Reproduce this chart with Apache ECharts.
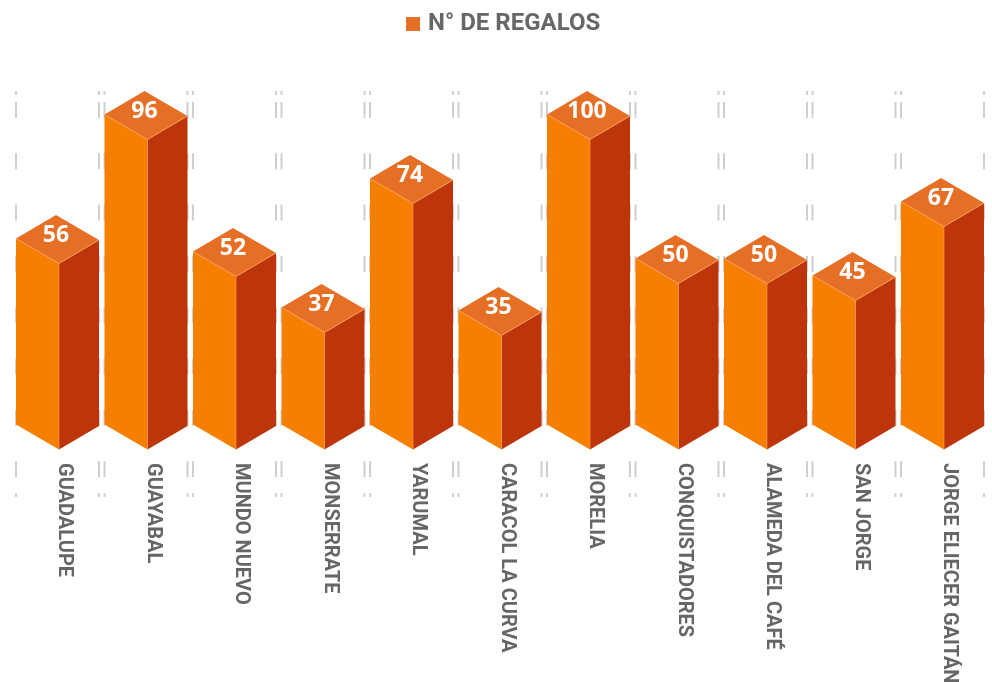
<!DOCTYPE html>
<html>
<head>
<meta charset="utf-8">
<title>N° de regalos</title>
<style>
  html, body { margin: 0; padding: 0; background: #fff; overflow: hidden; }
  #main { width: 992px; height: 682px; }
</style>
<script src="https://cdn.jsdelivr.net/npm/echarts@6/dist/echarts.min.js"></script>
</head>
<body>
<div id="main"></div>
<script>
var barrios = ['GUADALUPE', 'GUAYABAL', 'MUNDO NUEVO', 'MONSERRATE', 'YARUMAL', 'CARACOL LA CURVA',
  'MORELIA', 'CONQUISTADORES', 'ALAMEDA DEL CAFÉ', 'SAN JORGE', 'JORGE ELIECER GAITÁN'];
var regalos = [56, 96, 52, 37, 74, 35, 100, 50, 50, 45, 67]; // printed labels
// column heights as drawn in the picture, the original art does not scale them linearly with the labels
var alturas = [186, 310, 173, 117, 246, 114, 310, 166, 166, 149, 223];

var colorFront = '#F77F00';
var colorSide = '#BD360B';
var colorTop = '#E66F26';
var colorEdge = '#F9A45C';
var colorGuide = '#CFCFCF';
var colorText = '#666666';

// isometric offsets of the column footprint, relative to the front corner
var leftX = -43, leftY = -25, rightX = 40, rightY = -23.5;
var guideTop = 358.5, guideBottom = -47.5; // axis units
var guideDash = [4, 7, 16, 35.3, 16, 35.3, 16, 35.3, 16, 35.3, 16, 35.3, 16, 35.3, 16, 35.3, 16, 16, 4];

var chart = echarts.init(document.getElementById('main'));

function renderColumn(params, api) {
  var base = api.coord([api.value(0), 0]);
  var top = api.coord([api.value(0), api.value(1)]);
  var x = base[0];
  var guideA = api.coord([api.value(0), guideTop])[1];
  var guideB = api.coord([api.value(0), guideBottom])[1];

  function guide(gx) {
    return {
      type: 'line',
      shape: { x1: gx, y1: guideA, x2: gx, y2: guideB },
      style: { stroke: colorGuide, lineWidth: 2, lineDash: guideDash }
    };
  }
  function face(points, fill) {
    return { type: 'polygon', shape: { points: points }, style: { fill: fill } };
  }

  var lx = x + leftX, rx = x + rightX;
  var apexX = x + leftX + rightX, apexY = top[1] + leftY + rightY;
  return {
    type: 'group',
    children: [
      guide(lx),
      guide(rx),
      face([[lx, top[1] + leftY], [x, top[1]], [x, base[1]], [lx, base[1] + leftY]], colorFront),
      face([[x, top[1]], [rx, top[1] + rightY], [rx, base[1] + rightY], [x, base[1]]], colorSide),
      face([[lx, top[1] + leftY], [apexX, apexY], [rx, top[1] + rightY], [x, top[1]]], colorTop),
      {
        type: 'polyline',
        shape: { points: [[lx, top[1] + leftY], [x, top[1]], [rx, top[1] + rightY]] },
        style: { stroke: colorEdge, lineWidth: 1, fill: null, opacity: 0.8 }
      },
      {
        type: 'line',
        shape: { x1: x, y1: top[1], x2: x, y2: base[1] },
        style: { stroke: colorEdge, lineWidth: 1, opacity: 0.6 }
      },
      {
        type: 'text',
        x: apexX,
        y: apexY + 20,
        style: {
          text: String(api.value(2)),
          fill: '#fff',
          font: 'bold 23px "Open Sans"',
          align: 'center',
          verticalAlign: 'middle'
        }
      }
    ]
  };
}

chart.setOption({
  animation: false,
  legend: {
    left: 401,
    top: 7,
    itemWidth: 14,
    itemHeight: 14,
    itemGap: 9,
    selectedMode: false,
    icon: 'rect',
    textStyle: { color: colorText, fontFamily: 'Roboto', fontWeight: 'bold', fontSize: 24, padding: [0, 0, 0, 3] }
  },
  grid: { left: 14.75, right: 3.75, top: 49.5, bottom: 182.5, outerBoundsMode: 'none' },
  xAxis: {
    type: 'category',
    data: barrios,
    axisLine: { show: false },
    axisTick: { show: false },
    splitLine: { show: false },
    axisLabel: {
      interval: 0,
      rotate: -90,
      margin: -36.5,
      hideOverlap: false,
      align: 'left',
      verticalAlign: 'bottom',
      lineHeight: 10,
      color: colorText,
      fontFamily: 'Roboto',
      fontWeight: 'bold',
      fontSize: 20
    }
  },
  yAxis: { type: 'value', min: -50, max: 400, show: false },
  series: [{
    name: 'N° DE REGALOS',
    type: 'custom',
    clip: false,
    itemStyle: { color: colorTop },
    encode: { x: 0, y: 1 },
    renderItem: renderColumn,
    data: barrios.map(function (b, i) { return [i, alturas[i], regalos[i]]; })
  }]
});
</script>
</body>
</html>
